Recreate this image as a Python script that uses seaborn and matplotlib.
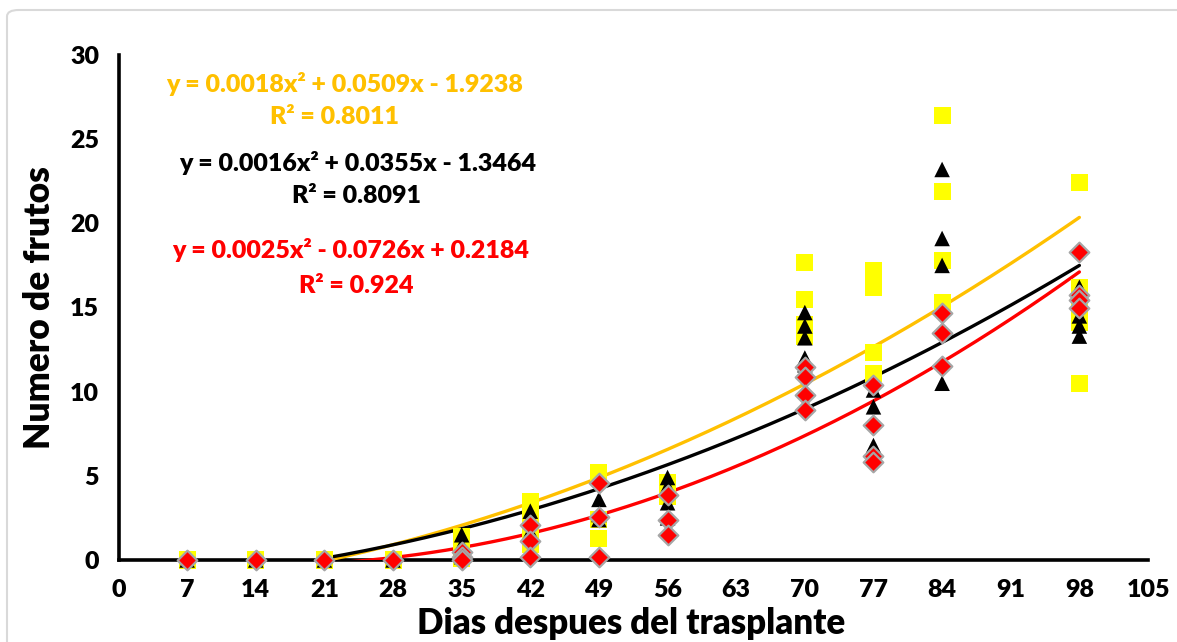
import numpy as np
import pandas as pd
import matplotlib
matplotlib.use("Agg")
import matplotlib.pyplot as plt
from matplotlib.patches import FancyBboxPatch
import seaborn as sns

# ---------------- data ----------------
days = [7, 14, 21, 28, 35, 42, 49, 56, 70, 77, 84, 98]

yellow_vals = [[0], [0], [0], [0],
               [1.4, 0.8, 0.1],
               [3.5, 2.6, 1.6, 0.9],
               [5.2, 2.4, 1.3],
               [4.6, 4.2, 3.8],
               [17.7, 15.5, 14.0, 13.3],
               [17.2, 16.2, 12.3, 11.1],
               [26.4, 21.9, 17.8, 15.3],
               [22.4, 16.2, 15.6, 14.6, 14.1, 10.5]]

black_vals = [[0], [0], [0], [0],
              [1.5, 0.9, 0.2],
              [2.9, 2.5, 1.7],
              [3.6, 2.7, 2.4],
              [4.9, 4.4, 3.4, 2.5],
              [14.7, 13.9, 13.2, 12.0, 11.6],
              [10.1, 9.1, 6.8, 6.4],
              [23.2, 19.1, 17.5, 10.5],
              [16.2, 15.8, 14.5, 13.9, 13.3]]

red_vals = [[0], [0], [0], [0],
            [0.5, 0.2, 0.0],
            [2.1, 1.1, 0.2],
            [4.6, 2.55, 0.2],
            [3.85, 2.4, 1.5],
            [11.45, 10.9, 9.8, 8.9],
            [10.4, 8.0, 6.2, 5.8],
            [14.7, 13.5, 11.5],
            [18.3, 15.75, 15.45, 15.0]]

# trendline coefficients (a x^2 + b x + c) as printed on the chart
yellow_coef = [0.0018, 0.0509, -1.9238]
black_coef = [0.0016, 0.0355, -1.3464]
red_coef = [0.0025, -0.0726, 0.2184]
trend_start, trend_end = 21, 98

yellow_eq = ["y = 0.0018x² + 0.0509x - 1.9238", "R² = 0.8011"]
black_eq = ["y = 0.0016x² + 0.0355x - 1.3464", "R² = 0.8091"]
red_eq = ["y = 0.0025x² - 0.0726x + 0.2184", "R² = 0.924"]

xticks = list(range(0, 106, 7))
yticks = [0, 5, 10, 15, 20, 25, 30]
xlabel = "Dias despues del trasplante"
ylabel = "Numero de frutos"


def long_form(vals, name):
    rows = []
    for d, vs in zip(days, vals):
        for v in vs:
            rows.append({"day": d, "value": v, "series": name})
    return pd.DataFrame(rows)


df_y = long_form(yellow_vals, "yellow")
df_k = long_form(black_vals, "black")
df_r = long_form(red_vals, "red")

# ---------------- style ----------------
sns.set_theme(style="white")
plt.rcParams["font.family"] = ["Lato", "DejaVu Sans"]
W = "heavy"
plt.rcParams["font.weight"] = W

YEL_MARK = "#FFFF00"
YEL_LINE = "#FFC000"
RED = "#FF0000"
GREY = "#A6A6A6"

fig = plt.figure(figsize=(11.77, 6.42), dpi=100)
fig.patch.set_facecolor("white")
border = FancyBboxPatch((7 / 1177, -0.05), 1.05, 1 - 10 / 642 + 0.05,
                        boxstyle="round,pad=0,rounding_size=0.01",
                        transform=fig.transFigure, facecolor="white",
                        edgecolor="#D9D9D9", linewidth=1.5, zorder=-10)
fig.patches.append(border)

ax = fig.add_axes([118.5 / 1177, 1 - 560 / 642, (1148 - 118.5) / 1177, (560 - 55) / 642])
ax.set_facecolor("none")

# trend lines
for coef, col in [(yellow_coef, YEL_LINE), (black_coef, "black"), (red_coef, RED)]:
    xs = np.linspace(trend_start, trend_end, 300)
    ys = np.polyval(coef, xs)
    sns.lineplot(x=xs, y=ys, color=col, linewidth=2.4, ax=ax, zorder=2, legend=False)

# scatter series
sns.scatterplot(data=df_y, x="day", y="value", marker="s", s=150, color=YEL_MARK,
                edgecolor="none", linewidth=0, ax=ax, zorder=3, clip_on=False, legend=False)
sns.scatterplot(data=df_k, x="day", y="value", marker="^", s=125, color="black",
                edgecolor="none", linewidth=0, ax=ax, zorder=4, clip_on=False, legend=False)
sns.scatterplot(data=df_r, x="day", y="value", marker="D", s=100, color=RED,
                edgecolor=GREY, linewidth=1.6, ax=ax, zorder=5, clip_on=False, legend=False)

ax.set_xlim(0, 105)
ax.set_ylim(0, 30)
ax.set_xticks(xticks)
ax.set_yticks(yticks)
ax.set_xticklabels([str(t) for t in xticks], fontsize=18, fontweight=W)
ax.set_yticklabels([str(t) for t in yticks], fontsize=18, fontweight=W)

for side in ["top", "right"]:
    ax.spines[side].set_visible(False)
for side in ["left", "bottom"]:
    ax.spines[side].set_color("black")
    ax.spines[side].set_linewidth(2.6)
    ax.spines[side].set_zorder(1)
ax.tick_params(axis="both", which="major", direction="out", length=6, width=2.2,
               color="black", labelcolor="black")
ax.tick_params(axis="x", pad=8)
ax.tick_params(axis="y", pad=8)

ax.set_xlabel("")
ax.set_ylabel(ylabel, fontsize=25.5, fontweight=W, color="black", labelpad=10)
fig.text((118.5 + 1148) / 2 / 1177 - 0.002, 1 - 624 / 642, xlabel, fontsize=25,
         fontweight=W, color="black", ha="center", va="center")
ax.grid(False)

# equation labels
eq_fs = 18
for (l1, l2), col, (x1, y1), (x2, y2) in [
        (yellow_eq, YEL_LINE, (23.1, 28.3), (22.0, 26.3)),
        (black_eq, "black", (24.4, 23.6), (24.3, 21.6)),
        (red_eq, RED, (23.7, 18.4), (24.3, 16.3))]:
    ax.text(x1, y1, l1, color=col, fontsize=eq_fs, fontweight=W,
            ha="center", va="center", zorder=6)
    ax.text(x2, y2, l2, color=col, fontsize=eq_fs, fontweight=W,
            ha="center", va="center", zorder=6)

fig.savefig("out.png", dpi=100, facecolor="white")
